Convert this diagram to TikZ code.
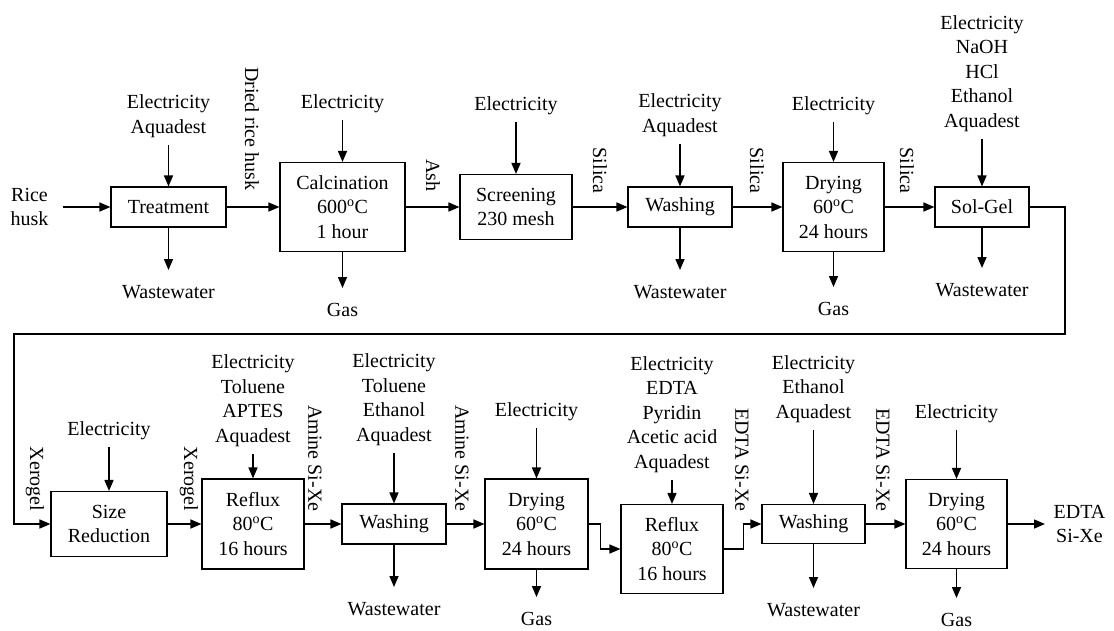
\documentclass[tikz,border=0pt]{standalone}
\usepackage{fontspec}
\setmainfont{Liberation Serif}
\usetikzlibrary{arrows.meta,positioning}
\tikzset{
  every picture/.style={line width=1.2pt},
  every node/.style={font=\fontsize{20}{24.5}\selectfont},
  unit/.style={draw, line width=1.1pt, align=center, inner sep=0pt},
  feed/.style={anchor=south, align=center, inner xsep=0pt, inner ysep=7pt},
  waste/.style={anchor=north, align=center, inner xsep=0pt, inner ysep=15pt},
  stream/.style={rotate=-90, anchor=east, inner sep=0pt},
  flow/.style={-{Triangle[length=11pt,width=9pt]}, line width=1.5pt}
}
\begin{document}
\begin{tikzpicture}[x=1pt, y=-1pt]
    \useasboundingbox (0,0) rectangle (1114,630);

    % --- upper line ---
    \node[align=center, anchor=east, inner xsep=14pt, inner ysep=0pt] (rice) at (63,207) {Rice\\husk};
    \node[unit, minimum width=115pt, minimum height=40pt] (treat) at (168.5,207) {Treatment};
    \node[unit, minimum width=125pt, minimum height=89pt] (calc) at (342.5,207) {Calcination\\600\textsuperscript{o}C\\1 hour};
    \node[unit, minimum width=112pt, minimum height=65pt] (screen) at (516,207) {Screening\\230 mesh};
    \node[unit, minimum width=104pt, minimum height=40pt] (wash1) at (680,207) {Washing};
    \node[unit, minimum width=101pt, minimum height=89pt] (dry1) at (833.5,207) {Drying\\60\textsuperscript{o}C\\24 hours};
    \node[unit, minimum width=94pt, minimum height=40pt] (sol) at (982,207) {Sol-Gel};

    % inputs
    \node[feed] (in-treat) at (168.5,145) {Electricity\\Aquadest};
    \node[feed] (in-calc) at (342.5,120) {Electricity};
    \node[feed] (in-screen) at (516,122) {Electricity};
    \node[feed] (in-wash1) at (680,144) {Electricity\\Aquadest};
    \node[feed] (in-dry1) at (833.5,122) {Electricity};
    \node[feed] (in-sol) at (982,139) {Electricity\\NaOH\\HCl\\Ethanol\\Aquadest};

    % outputs
    \node[waste] (out-treat) at (168.5,270) {Wastewater};
    \node[waste] (out-calc) at (342.5,288) {Gas};
    \node[waste] (out-wash1) at (680,270) {Wastewater};
    \node[waste] (out-dry1) at (833.5,287) {Gas};
    \node[waste] (out-sol) at (982,268) {Wastewater};

    % stream names
    \node[stream] (s-dried) at (252,191) {Dried rice husk};
    \node[stream] (s-ash) at (433,192) {Ash};
    \node[stream] (s-silica1) at (600,194) {Silica};
    \node[stream] (s-silica2) at (757,194) {Silica};
    \node[stream] (s-silica3) at (907,194) {Silica};

    % --- lower line ---
    \node[unit, minimum width=116pt, minimum height=65pt] (sizer) at (109,524) {Size\\Reduction};
    \node[unit, minimum width=102pt, minimum height=90pt] (refl1) at (253,524) {Reflux\\80\textsuperscript{o}C\\16 hours};
    \node[unit, minimum width=104pt, minimum height=40pt] (wash2) at (394,524) {Washing};
    \node[unit, minimum width=103pt, minimum height=90pt] (dry2) at (536.5,524) {Drying\\60\textsuperscript{o}C\\24 hours};
    \node[unit, minimum width=102pt, minimum height=89pt] (refl2) at (672,549) {Reflux\\80\textsuperscript{o}C\\16 hours};
    \node[unit, minimum width=103pt, minimum height=39pt] (wash3) at (813.5,524) {Washing};
    \node[unit, minimum width=101pt, minimum height=89pt] (dry3) at (956.5,524) {Drying\\60\textsuperscript{o}C\\24 hours};
    \node[align=center, anchor=west, inner xsep=8pt, inner ysep=0pt] (product) at (1045,524) {EDTA\\Si-Xe};

    % inputs
    \node[feed] (in-sizer) at (109,447) {Electricity};
    \node[feed] (in-refl1) at (253,454) {Electricity\\Toluene\\APTES\\Aquadest};
    \node[feed] (in-wash2) at (394,453) {Electricity\\Toluene\\Ethanol\\Aquadest};
    \node[feed] (in-dry2) at (536.5,428) {Electricity};
    \node[feed] (in-refl2) at (672,480) {Electricity\\EDTA\\Pyridin\\Acetic acid\\Aquadest};
    \node[feed] (in-wash3) at (813.5,430) {Electricity\\Ethanol\\Aquadest};
    \node[feed] (in-dry3) at (956.5,430) {Electricity};

    % outputs
    \node[waste] (out-wash2) at (394,587) {Wastewater};
    \node[waste] (out-dry2) at (536.5,597) {Gas};
    \node[waste] (out-wash3) at (813.5,588) {Wastewater};
    \node[waste] (out-dry3) at (956.5,598) {Gas};

    % stream names
    \node[stream] (s-xero1) at (35,512) {Xerogel};
    \node[stream] (s-xero2) at (189,512) {Xerogel};
    \node[stream] (s-amine1) at (315,512) {Amine Si-Xe};
    \node[stream] (s-amine2) at (462,512) {Amine Si-Xe};
    \node[stream] (s-edta1) at (742,512) {EDTA Si-Xe};
    \node[stream] (s-edta2) at (883,512) {EDTA Si-Xe};

    % --- arrows ---
    \foreach \u in {treat,calc,screen,wash1,dry1,sol,sizer,refl1,wash2,dry2,refl2,wash3,dry3}
        \draw[flow] (in-\u.south) -- (\u.north);
    \foreach \u in {treat,calc,wash1,dry1,sol,wash2,dry2,wash3,dry3}
        \draw[flow] (\u.south) -- (out-\u.north);

    \draw[flow] (rice.east) -- (treat.west);
    \draw[flow] (treat) -- (calc);
    \draw[flow] (calc) -- (screen);
    \draw[flow] (screen) -- (wash1);
    \draw[flow] (wash1) -- (dry1);
    \draw[flow] (dry1) -- (sol);

    % return line to the lower row
    \coordinate (turn1) at (1065,334);
    \coordinate (turn2) at (14,334);
    \draw[flow] (sol.east) -| (turn1) -- (turn2) |- (sizer.west);

    \draw[flow] (sizer) -- (refl1);
    \draw[flow] (refl1) -- (wash2);
    \draw[flow] (wash2) -- (dry2);
    \draw[flow] (dry2.east) -- ++(12,0) |- (refl2.west);
    \draw[flow] (refl2.east) -- ++(20,0) |- (wash3.west);
    \draw[flow] (wash3) -- (dry3);
    \draw[flow] (dry3.east) -- (product.west);

\end{tikzpicture}
\end{document}
